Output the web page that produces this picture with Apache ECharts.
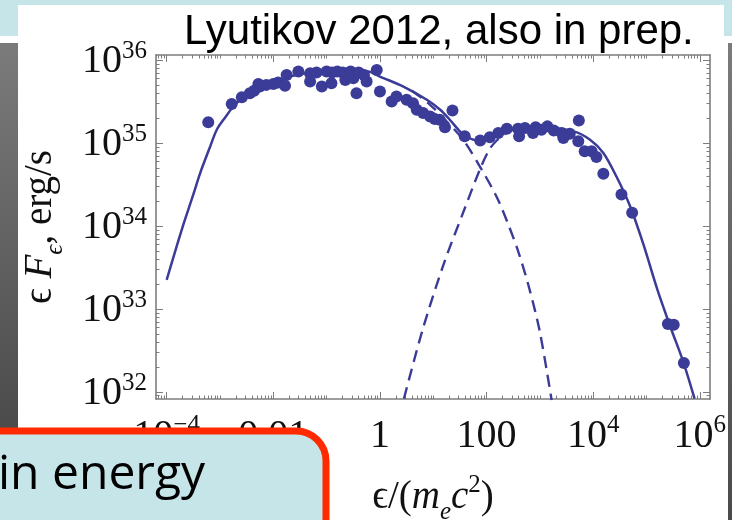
<!DOCTYPE html>
<html>
<head>
<meta charset="utf-8">
<script src="https://cdn.jsdelivr.net/npm/echarts@6/dist/echarts.min.js"></script>
<style>
  html, body { margin: 0; padding: 0; background: #ffffff; }
  #chart { width: 732px; height: 520px; }
</style>
</head>
<body>
<div id="chart"></div>
<script>
// Values are stored as decimal exponents: log10(ε/(m_e c^2)) and log10(εFε / erg s^-1)

// Observed spectral points
const pointLogE = [
  -3.22, -2.78, -2.59, -2.44, -2.36, -2.28, -2.25, -2.13, -2.00, -1.91,
  -1.78, -1.75, -1.53, -1.31, -1.31, -1.19, -1.09, -1.00, -0.91, -0.90,
  -0.80, -0.70, -0.65, -0.55, -0.50, -0.44, -0.40, -0.30, -0.25, -0.06,
  0.00, 0.22, 0.31, 0.50, 0.62, 0.69, 0.81, 0.94, 1.03, 1.12,
  1.22, 1.36, 1.59, 1.88, 2.06, 2.22, 2.38, 2.59, 2.61, 2.72,
  2.87, 2.92, 3.03, 3.14, 3.26, 3.41, 3.44, 3.56, 3.73, 3.72,
  3.84, 3.97, 4.06, 4.19, 4.53, 4.73, 5.40, 5.51, 5.70
];
const pointLogL = [
  35.25, 35.47, 35.55, 35.60, 35.63, 35.71, 35.68, 35.70, 35.71, 35.73,
  35.69, 35.82, 35.86, 35.84, 35.74, 35.85, 35.68, 35.86, 35.72, 35.85,
  35.86, 35.85, 35.76, 35.86, 35.78, 35.60, 35.85, 35.82, 35.74, 35.88,
  35.62, 35.50, 35.56, 35.52, 35.48, 35.40, 35.36, 35.32, 35.29, 35.28,
  35.19, 35.39, 35.08, 35.03, 35.07, 35.12, 35.17, 35.17, 35.08, 35.18,
  35.12, 35.19, 35.16, 35.20, 35.15, 35.12, 35.06, 35.11, 35.27, 35.02,
  34.90, 34.90, 34.83, 34.63, 34.38, 34.16, 32.82, 32.81, 32.35
];

// Total model spectrum (solid)
const totalLogE = [
  -4.00, -3.80, -3.66, -3.50, -3.37, -3.20, -3.06, -2.90, -2.75, -2.60,
  -2.44, -2.13, -1.69, -1.19, -0.56, -0.20, 0.00, 0.44, 0.88, 1.13,
  1.31, 1.56, 1.75, 1.88, 2.00, 2.19, 2.50, 3.13, 3.63, 3.94,
  4.19, 4.44, 4.69, 4.94, 5.20, 5.45, 5.69, 5.90
];
const totalLogL = [
  33.35, 33.78, 34.07, 34.38, 34.64, 34.93, 35.16, 35.31, 35.44, 35.53,
  35.60, 35.70, 35.80, 35.86, 35.89, 35.86, 35.80, 35.68, 35.52, 35.40,
  35.28, 35.10, 35.04, 35.02, 35.05, 35.12, 35.17, 35.18, 35.14, 35.04,
  34.88, 34.59, 34.24, 33.78, 33.24, 32.78, 32.36, 31.92
];

// Synchrotron component (dashed, low-energy hump)
const synchLogE = [0.60, 0.94, 1.25, 1.56, 1.88, 2.19, 2.40, 2.60, 2.80, 3.00, 3.22];
const synchLogL = [35.63, 35.46, 35.26, 35.04, 34.71, 34.35, 34.03, 33.68, 33.25, 32.72, 31.90];

// Inverse-Compton component (dashed, high-energy hump)
const icLogE = [0.45, 0.80, 1.20, 1.56, 1.88, 2.05, 2.19, 2.35, 2.50, 2.70];
const icLogL = [31.92, 32.75, 33.55, 34.16, 34.69, 34.92, 35.03, 35.11, 35.16, 35.18];

// Axis ticks and their labels
const xMajorTicks = [-4, -2, 0, 2, 4, 6];
const xTickLabels = ['10{sup|\u22124}', '0.01', '1', '100', '10{sup|4}', '10{sup|6}'];
const yMajorTicks = [32, 33, 34, 35, 36];
const yTickLabels = ['10{sup|32}', '10{sup|33}', '10{sup|34}', '10{sup|35}', '10{sup|36}'];

const X_MIN = -4.2, X_MAX = 6.19;
const Y_MIN = 31.915, Y_MAX = 36.06;

const INK = '#3b3b98';
const FRAME = '#7d7d7d';
const SERIF = "'Liberation Serif','DejaVu Serif',serif";
const CYAN = '#c6e5e9';

function pairs(xs, ys) { return xs.map((x, i) => [x, ys[i]]); }

// Logarithmic minor tick positions (2..9 within each decade, plus decades that carry no label)
function minorTicks(lo, hi, majors) {
  const out = [];
  for (let d = Math.floor(lo) - 1; d <= Math.ceil(hi); d++) {
    for (let k = 1; k <= 9; k++) {
      const v = d + Math.log10(k);
      if (v > lo && v < hi && !majors.includes(v)) out.push(v);
    }
  }
  return out;
}
const xMinor = minorTicks(X_MIN, X_MAX, xMajorTicks);
const yMinor = minorTicks(Y_MIN, Y_MAX, yMajorTicks);

const tickRich = {
  b: { fontFamily: SERIF, fontSize: 40, color: '#111', verticalAlign: 'bottom', lineHeight: 44 },
  sup: { fontFamily: SERIF, fontSize: 25, color: '#111', verticalAlign: 'bottom', lineHeight: 25, padding: [0, 0, 18, 0] }
};
function wrapBase(s) {
  return s.replace(/^([^{]+)/, '{b|$1}');
}

function frameAxis(kind, position, opts) {
  const isX = kind === 'x';
  const ax = {
    type: 'value',
    position: position,
    min: isX ? X_MIN : Y_MIN,
    max: isX ? X_MAX : Y_MAX,
    axisLine: { show: !!opts.line, onZero: false, lineStyle: { color: FRAME, width: 1.6 } },
    axisTick: {
      show: true, inside: true, length: opts.tickLen,
      customValues: opts.ticks,
      lineStyle: { color: FRAME, width: 1 }
    },
    axisLabel: { show: false },
    splitLine: { show: false },
    minorTick: { show: false }
  };
  if (opts.labels) {
    const majors = isX ? xMajorTicks : yMajorTicks;
    const texts = isX ? xTickLabels : yTickLabels;
    ax.axisLabel = {
      show: true,
      customValues: majors,
      margin: opts.margin,
      hideOverlap: false,
      formatter: function (v) {
        const i = majors.findIndex(m => Math.abs(m - v) < 1e-9);
        return i < 0 ? '' : wrapBase(texts[i]);
      },
      rich: tickRich
    };
  }
  if (opts.name) {
    ax.name = opts.name;
    ax.nameLocation = 'middle';
    ax.nameGap = opts.nameGap;
    ax.nameRotate = opts.nameRotate;
    ax.nameTextStyle = { rich: opts.nameRich };
  }
  return ax;
}

const nameRich = {
  r: { fontFamily: SERIF, fontSize: 39, color: '#111', verticalAlign: 'bottom', lineHeight: 46, padding: [0, 0, 8, 0] },
  i: { fontFamily: SERIF, fontSize: 39, fontStyle: 'italic', color: '#111', verticalAlign: 'bottom', lineHeight: 46, padding: [0, 0, 8, 0] },
  sub: { fontFamily: SERIF, fontSize: 25, fontStyle: 'italic', color: '#111', verticalAlign: 'bottom', lineHeight: 30 },
  sup: { fontFamily: SERIF, fontSize: 25, color: '#111', verticalAlign: 'bottom', lineHeight: 25, padding: [0, 0, 27, 0] }
};

const chart = echarts.init(document.getElementById('chart'), null, { renderer: 'canvas' });

chart.setOption({
  animation: false,
  backgroundColor: '#ffffff',
  grid: { left: 156, top: 55, width: 554, height: 344, containLabel: false, outerBoundsMode: 'none' },
  xAxis: [
    frameAxis('x', 'bottom', {
      line: true, tickLen: 7, ticks: xMajorTicks, labels: true, margin: 13,
      name: '{r|\u03f5/(}{i|m}{sub|e}{i|c}{sup|2}{r|)}', nameGap: 80, nameRich: nameRich
    }),
    frameAxis('x', 'bottom', { tickLen: 3.5, ticks: xMinor }),
    frameAxis('x', 'top', { line: true, tickLen: 7, ticks: xMajorTicks }),
    frameAxis('x', 'top', { tickLen: 3.5, ticks: xMinor })
  ],
  yAxis: [
    frameAxis('y', 'left', {
      line: true, tickLen: 7, ticks: yMajorTicks, labels: true, margin: 9,
      name: '{r|\u03f5 }{i|F}{sub|\u03f5}{r|, erg/s}', nameGap: 88, nameRotate: 90, nameRich: nameRich
    }),
    frameAxis('y', 'left', { tickLen: 3.5, ticks: yMinor }),
    frameAxis('y', 'right', { line: true, tickLen: 7, ticks: yMajorTicks }),
    frameAxis('y', 'right', { tickLen: 3.5, ticks: yMinor })
  ],
  series: [
    {
      name: 'synchrotron', type: 'line', data: pairs(synchLogE, synchLogL),
      smooth: 0.3, symbol: 'none', clip: true, z: 2,
      lineStyle: { color: INK, width: 2.4, type: [12, 7] }
    },
    {
      name: 'inverse Compton', type: 'line', data: pairs(icLogE, icLogL),
      smooth: 0.3, symbol: 'none', clip: true, z: 2,
      lineStyle: { color: INK, width: 2.4, type: [12, 7] }
    },
    {
      name: 'total', type: 'line', data: pairs(totalLogE, totalLogL),
      smooth: 0.3, symbol: 'none', clip: true, z: 3,
      lineStyle: { color: INK, width: 2.5 }
    },
    {
      name: 'data', type: 'scatter', data: pairs(pointLogE, pointLogL),
      symbol: 'circle', symbolSize: 12, z: 4,
      itemStyle: { color: INK, opacity: 1 }
    }
  ],
  graphic: [
    // slide frame around the figure
    { type: 'rect', z: 1, shape: { x: 0, y: 0, width: 732, height: 5 }, style: { fill: CYAN } },
    { type: 'rect', z: 1, shape: { x: 0, y: 0, width: 18, height: 36 }, style: { fill: CYAN } },
    { type: 'rect', z: 1, shape: { x: 724, y: 0, width: 8, height: 36 }, style: { fill: CYAN } },
    {
      type: 'rect', z: 1, shape: { x: 0, y: 43, width: 18, height: 390 },
      style: { fill: new echarts.graphic.LinearGradient(0, 0, 0, 1, [{ offset: 0, color: '#7b7b7b' }, { offset: 1, color: '#4a4a4a' }]) }
    },
    {
      type: 'rect', z: 1, shape: { x: 728, y: 43, width: 4, height: 477 },
      style: { fill: new echarts.graphic.LinearGradient(0, 0, 0, 1, [{ offset: 0, color: '#7b7b7b' }, { offset: 1, color: '#4a4a4a' }]) }
    },
    {
      type: 'text', z: 10, x: 184, y: 11,
      style: { text: 'Lyutikov 2012, also in prep.', fill: '#000', font: "42px 'Liberation Sans', Arial, sans-serif", textVerticalAlign: 'top' }
    },
    // callout box
    {
      type: 'rect', z: 100, shape: { x: -60, y: 431, width: 386, height: 160, r: 30 },
      style: { fill: CYAN, stroke: '#ff2a00', lineWidth: 7 }
    },
    {
      type: 'text', z: 101, x: -2, y: 451,
      style: { text: 'in energy', fill: '#000', font: "48px 'Open Sans', sans-serif", textVerticalAlign: 'top' }
    }
  ]
});
</script>
</body>
</html>
